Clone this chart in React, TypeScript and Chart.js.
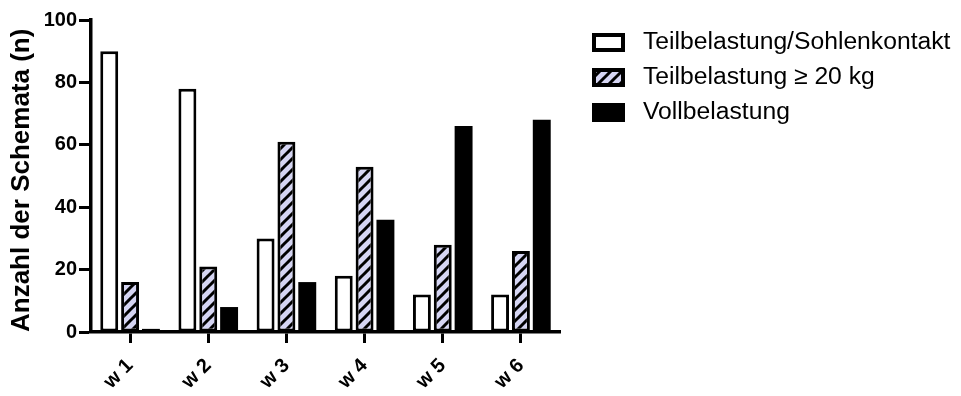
import React, { useEffect, useRef } from "react";
import { Chart, registerables } from "chart.js";

Chart.register(...registerables);

// Weeks after surgery and number of load schemes per category
const weeks = ["w 1", "w 2", "w 3", "w 4", "w 5", "w 6"];
const sohlenkontakt = [90, 78, 30, 18, 12, 12];
const teilbelastung20 = [16, 21, 61, 53, 28, 26];
const vollbelastung = [1, 8, 16, 36, 66, 68];
const seriesNames = [
  "Teilbelastung/Sohlenkontakt",
  "Teilbelastung \u2265 20 kg",
  "Vollbelastung",
];
const yTicks = [0, 20, 40, 60, 80, 100];
const yTitle = "Anzahl der Schemata (n)";

const FONT = "'Liberation Sans', Arial, Helvetica, sans-serif";
const LAVENDER = "#d5d5f3";

// Lavender fill with black "/" hatching
function hatchPattern(): CanvasPattern | string {
  const size = 11;
  const tile = document.createElement("canvas");
  tile.width = size;
  tile.height = size;
  const c = tile.getContext("2d");
  if (!c) return LAVENDER;
  c.fillStyle = LAVENDER;
  c.fillRect(0, 0, size, size);
  c.strokeStyle = "#000";
  c.lineWidth = 3;
  c.beginPath();
  for (const x0 of [-size, 0, size]) {
    c.moveTo(x0 - 1, size + 1);
    c.lineTo(x0 + size + 1, -1);
  }
  c.stroke();
  return c.createPattern(tile, "repeat") || LAVENDER;
}

// Legend drawn to the right of the plot, one row per dataset
const sideLegend = {
  id: "sideLegend",
  afterDraw(chart: any, _args: any, opts: any) {
    const { ctx } = chart;
    ctx.save();
    chart.data.datasets.forEach((ds: any, i: number) => {
      const cy = opts.top + i * opts.rowGap;
      const bx = opts.left;
      const by = Math.round(cy - opts.boxHeight / 2);
      ctx.fillStyle = ds.backgroundColor;
      ctx.fillRect(bx, by, opts.boxWidth, opts.boxHeight);
      const h = opts.borderWidth / 2;
      ctx.lineWidth = opts.borderWidth;
      ctx.strokeStyle = "#000";
      ctx.strokeRect(bx + h, by + h, opts.boxWidth - 2 * h, opts.boxHeight - 2 * h);
      ctx.fillStyle = "#000";
      ctx.font = `${opts.fontSize}px ${FONT}`;
      ctx.textBaseline = "middle";
      ctx.textAlign = "left";
      ctx.fillText(ds.label, opts.textX, cy);
    });
    ctx.restore();
  },
};

export default function App() {
  const canvasRef = useRef<HTMLCanvasElement | null>(null);

  useEffect(() => {
    const canvas = canvasRef.current;
    if (!canvas) return;
    const hatch = hatchPattern();
    const bold = { family: FONT, size: 20, weight: "bold" as const };

    const chart = new Chart(canvas, {
      type: "bar",
      data: {
        labels: weeks,
        datasets: [
          {
            label: seriesNames[0],
            data: sohlenkontakt,
            backgroundColor: "#ffffff",
            borderColor: "#000000",
            borderWidth: 3,
            borderSkipped: false,
          },
          {
            label: seriesNames[1],
            data: teilbelastung20,
            backgroundColor: hatch as any,
            borderColor: "#000000",
            borderWidth: 3,
            borderSkipped: false,
          },
          {
            label: seriesNames[2],
            data: vollbelastung,
            backgroundColor: "#000000",
            borderColor: "#000000",
            borderWidth: 0,
          },
        ],
      },
      options: {
        animation: false,
        responsive: false,
        devicePixelRatio: 1,
        layout: { padding: { top: 20, right: 401, bottom: 0, left: 0 } },
        datasets: { bar: { categoryPercentage: 0.8, barPercentage: 0.86 } },
        plugins: {
          legend: { display: false },
          tooltip: { enabled: false },
          sideLegend: {
            left: 592,
            textX: 643,
            top: 42.5,
            rowGap: 35,
            boxWidth: 33,
            boxHeight: 19,
            borderWidth: 4,
            fontSize: 24.7,
          },
        } as any,
        scales: {
          x: {
            type: "category",
            offset: true,
            grid: {
              display: true,
              drawOnChartArea: false,
              offset: false,
              tickLength: 11,
              tickWidth: 3,
              tickColor: "#000",
            },
            border: { display: true, color: "#000", width: 3.5 },
            ticks: {
              autoSkip: false,
              minRotation: 45,
              maxRotation: 45,
              padding: 11,
              color: "#000",
              font: bold,
            },
            afterFit: (s: any) => {
              s.height = 64;
            },
          },
          y: {
            min: 0,
            max: 100,
            afterBuildTicks: (s: any) => {
              s.ticks = yTicks.map((v) => ({ value: v }));
            },
            grid: {
              display: true,
              drawOnChartArea: false,
              tickLength: 12,
              tickWidth: 3,
              tickColor: "#000",
            },
            border: { display: true, color: "#000", width: 3.5 },
            ticks: { padding: 2, color: "#000", font: bold },
            title: {
              display: true,
              text: yTitle,
              align: "start",
              color: "#000",
              font: { family: FONT, size: 26, weight: "bold" },
              padding: { top: 6, bottom: 0 },
            },
            afterFit: (s: any) => {
              s.width = 91;
            },
          },
        },
      },
      plugins: [sideLegend as any],
    });

    return () => chart.destroy();
  }, []);

  return (
    <div style={{ position: "fixed", left: 0, top: 0, width: 961, height: 396, background: "#fff" }}>
      <canvas ref={canvasRef} width={961} height={396} style={{ display: "block" }} />
    </div>
  );
}
